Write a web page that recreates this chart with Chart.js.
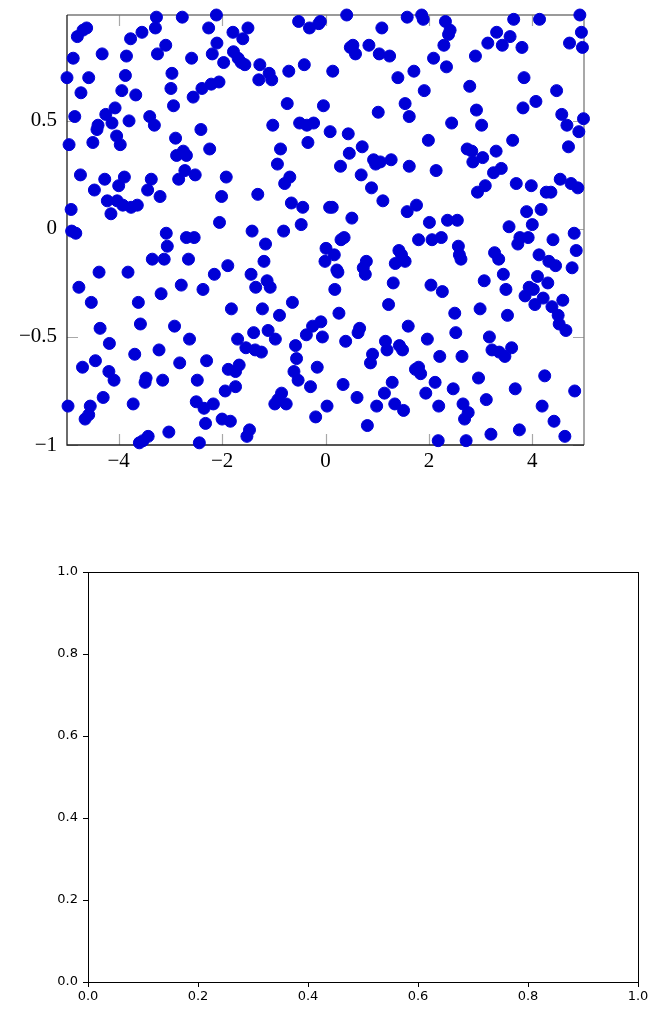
<!DOCTYPE html>
<html>
<head>
<meta charset="utf-8">
<script src="https://cdn.jsdelivr.net/npm/chart.js@4.4.1/dist/chart.umd.min.js"></script>
<style>
  body { margin: 0; background: #fff; }
  .box { position: absolute; left: 0; width: 652px; }
  #top { top: 0; height: 490px; }
  #bottom { top: 500px; height: 509px; }
</style>
</head>
<body>
<div class="box" id="top"><canvas id="chart-scatter"></canvas></div>
<div class="box" id="bottom"><canvas id="chart-empty"></canvas></div>
<script>
// tick positions
const xTicks = [-4, -2, 0, 2, 4];
const yTicks = [-1, -0.5, 0, 0.5];
const emptyTicks = [0, 0.2, 0.4, 0.6, 0.8, 1.0];

// scatter points
const xs = [
    -3.27, -2.77, -2.11, -4.62, -4.69, -4.80, -3.29, -3.55, -3.77, -2.26,
    -1.79, -2.10, -3.09, -4.32, -3.85, -3.25, -2.59, -2.19, -1.78, -1.69,
    -1.97, -4.88, -5.00, -4.58, -3.87, -2.97, -4.73, -3.94, -3.67, -2.99,
    -2.56, -2.39, -2.21, -2.06, -2.94, -4.85, -4.07, -4.25, -3.40, -3.31,
    -4.40, -4.42, -4.13, -3.80, -2.41, -4.96, -4.50, -4.04, -3.97, -2.90,
    -2.75, -2.88, -2.69, -2.24, -4.74, -4.27, -3.89, -4.00, -4.47, -3.37,
    -3.44, -2.72, -2.84, -2.52, -1.92, -2.01, -3.20, -4.22, -4.03, -3.92,
    -3.76, -3.64, -4.15, -4.92, -2.05, -0.52, -0.31, -0.13, -0.10, 0.41,
    1.58, -1.50, -1.60, 1.09, 0.53, 0.58, 0.48, 0.84, 1.04, 1.24,
    1.40, -1.56, -1.63, -1.27, -1.29, -1.09, -1.04, -0.71, -0.41, 0.14,
    -0.74, -0.04, 1.02, 1.54, 1.62, -1.02, -0.50, -0.36, -0.23, -0.34,
    0.09, 0.44, -0.87, -0.93, -0.69, -0.79, 0.29, 0.46, 0.71, 0.93,
    1.06, 0.97, 1.27, 0.69, 0.89, 1.11, -1.31, -0.66, -0.44, 0.08,
    0.13, 0.51, -0.47, 1.58, 1.62, 1.86, 1.89, 2.32, 2.41, 2.38,
    3.64, 4.14, 4.92, 4.95, 3.31, 3.57, 3.14, 3.42, 3.80, 4.72,
    4.97, 2.29, 2.09, 2.34, 2.90, 1.71, 3.84, 2.79, 1.91, 4.47,
    2.92, 3.82, 4.07, 4.57, 4.67, 4.99, 4.90, 2.44, 3.02, 1.99,
    3.62, 2.74, 2.83, 2.85, 3.04, 3.30, 4.70, 2.14, 3.25, 3.40,
    3.09, 2.94, 3.69, 3.98, 4.27, 4.36, 4.54, 4.75, 4.88, 1.76,
    2.01, 2.36, 2.55, 3.89, 4.17, 3.55, 4.00, 4.81, -4.91, -4.83,
    -3.08, -3.06, -2.69, -2.54, -3.35, -3.12, -2.65, -4.38, -3.82, -1.89,
    -2.15, -4.77, -4.53, -3.62, -3.18, -2.79, -2.37, -1.82, -4.36, -4.18,
    -3.58, -2.92, -2.63, -1.70, -4.70, -4.45, -4.19, -4.09, -3.69, -3.22,
    -2.82, -2.30, -3.47, -3.49, -3.15, -2.48, -1.88, -1.74, -1.67, -4.30,
    -4.98, -4.55, -4.58, -4.65, -3.72, -2.50, -2.35, -2.17, -1.94, -1.74,
    -2.00, -1.84, -2.32, -3.03, -3.43, -3.53, -3.60, -2.44, -1.42, -0.81,
    -1.16, 0.01, 0.17, -0.01, 0.30, 0.36, 0.22, 0.24, 1.42, 1.47,
    1.54, 1.35, 0.79, 0.73, 0.77, -1.19, -1.44, -1.13, -1.07, -1.35,
    0.18, 1.31, -1.22, -0.89, -0.64, 0.26, 1.22, 1.60, -1.39, -1.11,
    -0.97, -0.37, -0.25, -0.09, -0.06, 0.39, 0.66, 0.63, 1.16, 1.19,
    1.43, 1.49, -1.54, -1.36, -1.24, -0.58, -0.56, -0.61, -0.53, -0.16,
    -0.29, 0.34, 0.91, 0.87, -0.85, -0.98, -0.76, -0.92, 0.03, -0.19,
    0.61, 1.14, 1.29, 0.99, 1.34, 1.51, 0.81, -1.47, -1.52, 1.80,
    2.06, 2.24, 2.57, 2.59, 2.62, 3.27, 3.35, 3.76, 3.72, 3.92,
    4.40, 4.85, 4.13, 4.32, 4.45, 4.77, 3.44, 3.07, 2.04, 2.26,
    3.49, 4.10, 4.30, 3.94, 4.02, 3.86, 4.21, 4.05, 4.59, 4.38,
    4.50, 4.52, 4.65, 2.50, 2.99, 3.52, 1.97, 2.52, 3.17, 2.21,
    2.64, 3.22, 3.36, 3.47, 3.60, 1.80, 1.84, 1.74, 2.96, 2.12,
    1.94, 2.47, 3.67, 4.24, 4.82, 3.11, 2.66, 2.76, 2.69, 2.19,
    4.19, 4.42, 2.18, 2.72, 3.20, 3.75, 4.63
];
const ys = [
    0.98, 0.98, 0.99, 0.93, 0.92, 0.89, 0.93, 0.91, 0.88, 0.93,
    0.91, 0.86, 0.85, 0.81, 0.80, 0.81, 0.79, 0.81, 0.82, 0.79,
    0.77, 0.79, 0.70, 0.70, 0.71, 0.72, 0.63, 0.64, 0.62, 0.65,
    0.61, 0.65, 0.67, 0.68, 0.57, 0.52, 0.56, 0.53, 0.52, 0.48,
    0.48, 0.46, 0.49, 0.50, 0.46, 0.39, 0.40, 0.43, 0.39, 0.42,
    0.36, 0.34, 0.34, 0.37, 0.25, 0.23, 0.24, 0.20, 0.18, 0.23,
    0.18, 0.27, 0.23, 0.25, 0.24, 0.15, 0.15, 0.13, 0.13, 0.11,
    0.10, 0.11, 0.07, 0.09, 0.03, 0.96, 0.93, 0.95, 0.96, 0.99,
    0.98, 0.93, 0.88, 0.93, 0.85, 0.81, 0.84, 0.85, 0.81, 0.80,
    0.70, 0.76, 0.77, 0.76, 0.69, 0.72, 0.69, 0.73, 0.76, 0.73,
    0.58, 0.57, 0.54, 0.58, 0.52, 0.48, 0.49, 0.48, 0.49, 0.40,
    0.45, 0.44, 0.37, 0.30, 0.24, 0.21, 0.29, 0.35, 0.38, 0.32,
    0.31, 0.30, 0.32, 0.25, 0.19, 0.13, 0.16, 0.12, 0.10, 0.10,
    0.10, 0.05, 0.02, 0.08, 0.29, 0.99, 0.97, 0.96, 0.92, 0.90,
    0.97, 0.97, 0.99, 0.91, 0.91, 0.89, 0.86, 0.85, 0.84, 0.86,
    0.84, 0.85, 0.79, 0.75, 0.80, 0.73, 0.70, 0.66, 0.64, 0.64,
    0.55, 0.56, 0.59, 0.53, 0.48, 0.51, 0.45, 0.49, 0.48, 0.41,
    0.41, 0.37, 0.36, 0.31, 0.33, 0.36, 0.38, 0.27, 0.26, 0.28,
    0.20, 0.17, 0.21, 0.20, 0.17, 0.17, 0.23, 0.21, 0.19, 0.11,
    0.03, 0.04, 0.04, 0.08, 0.09, 0.01, 0.02, -0.02, -0.01, -0.02,
    -0.02, -0.08, -0.04, -0.04, -0.14, -0.14, -0.14, -0.20, -0.20, -0.17,
    -0.21, -0.27, -0.34, -0.34, -0.30, -0.26, -0.28, -0.37, -0.46, -0.53,
    -0.44, -0.45, -0.51, -0.51, -0.64, -0.61, -0.66, -0.70, -0.58, -0.56,
    -0.62, -0.61, -0.69, -0.71, -0.70, -0.70, -0.65, -0.66, -0.63, -0.78,
    -0.82, -0.82, -0.86, -0.88, -0.81, -0.80, -0.83, -0.81, -0.75, -0.73,
    -0.88, -0.89, -0.90, -0.94, -0.96, -0.98, -0.99, -0.99, -0.01, -0.01,
    -0.07, -0.09, -0.12, -0.15, -0.05, -0.04, -0.19, -0.20, -0.10, -0.12,
    -0.15, -0.16, -0.15, -0.18, -0.21, -0.15, -0.21, -0.24, -0.27, -0.27,
    -0.28, -0.25, -0.37, -0.40, -0.34, -0.39, -0.35, -0.45, -0.48, -0.47,
    -0.51, -0.49, -0.45, -0.43, -0.50, -0.52, -0.46, -0.48, -0.52, -0.56,
    -0.54, -0.56, -0.55, -0.56, -0.57, -0.54, -0.60, -0.66, -0.70, -0.64,
    -0.73, -0.72, -0.58, -0.62, -0.76, -0.81, -0.81, -0.79, -0.82, -0.87,
    -0.78, -0.76, -0.71, -0.82, -0.81, -0.84, -0.91, -0.93, -0.96, -0.05,
    -0.05, -0.04, -0.08, -0.12, -0.14, -0.11, -0.14, -0.04, -0.07, -0.04,
    -0.05, -0.10, -0.12, -0.15, -0.17, -0.18, -0.21, -0.24, -0.26, -0.29,
    -0.28, -0.22, -0.25, -0.27, -0.28, -0.31, -0.32, -0.35, -0.33, -0.36,
    -0.40, -0.44, -0.47, -0.39, -0.37, -0.40, -0.51, -0.48, -0.50, -0.59,
    -0.59, -0.56, -0.57, -0.59, -0.55, -0.64, -0.67, -0.65, -0.69, -0.71,
    -0.76, -0.74, -0.74, -0.68, -0.75, -0.79, -0.81, -0.85, -0.88, -0.82,
    -0.82, -0.89, -0.98, -0.98, -0.95, -0.93, -0.96
];

const minus = v => String(v).replace('-', '\u2212');

function fixTicks(values) {
    return scale => { scale.ticks = values.map(v => ({ value: v })); };
}

// fixed axis size, no extra label overflow padding
function fixSize(w, h) {
    return s => {
        if (w != null) s.width = w;
        if (h != null) s.height = h;
        s.paddingTop = 0; s.paddingBottom = 0;
        s.paddingLeft = 0; s.paddingRight = 0;
    };
}

// grey inward ticks on all four sides + the box (top chart)
const insideFrame = {
    id: 'insideFrame',
    beforeDatasetsDraw(chart) {
        const { ctx, chartArea: a, scales } = chart;
        const len = 11;
        ctx.save();
        ctx.strokeStyle = '#a8a8a8';
        ctx.lineWidth = 1.2;
        ctx.beginPath();
        scales.x.ticks.forEach(t => {
            const px = Math.round(scales.x.getPixelForValue(t.value)) + 0.5;
            ctx.moveTo(px, a.bottom); ctx.lineTo(px, a.bottom - len);
            ctx.moveTo(px, a.top); ctx.lineTo(px, a.top + len);
        });
        scales.y.ticks.forEach(t => {
            const py = Math.round(scales.y.getPixelForValue(t.value)) + 0.5;
            ctx.moveTo(a.left, py); ctx.lineTo(a.left + len, py);
            ctx.moveTo(a.right, py); ctx.lineTo(a.right - len, py);
        });
        ctx.stroke();

        ctx.lineWidth = 1.3;
        ctx.strokeStyle = '#7a7a7a';
        ctx.beginPath();
        ctx.moveTo(a.left, a.top); ctx.lineTo(a.right, a.top); ctx.lineTo(a.right, a.bottom);
        ctx.stroke();
        ctx.strokeStyle = '#1e1e1e';
        ctx.beginPath();
        ctx.moveTo(a.left, a.top); ctx.lineTo(a.left, a.bottom); ctx.lineTo(a.right, a.bottom);
        ctx.stroke();
        ctx.restore();
    }
};

// plain black box (bottom chart)
const boxFrame = {
    id: 'boxFrame',
    beforeDatasetsDraw(chart) {
        const { ctx, chartArea: a } = chart;
        ctx.save();
        ctx.strokeStyle = '#000';
        ctx.lineWidth = 1;
        ctx.strokeRect(Math.round(a.left) + 0.5, Math.round(a.top) + 0.5,
            Math.round(a.right - a.left), Math.round(a.bottom - a.top));
        ctx.restore();
    }
};

const serif = { family: "'Liberation Serif', 'DejaVu Serif', serif", size: 21 };
const sans = { family: "'DejaVu Sans', sans-serif", size: 13 };

new Chart(document.getElementById('chart-scatter'), {
    type: 'scatter',
    data: {
        datasets: [{
            data: xs.map((x, i) => ({ x: x, y: ys[i] })),
            backgroundColor: '#0000d6',
            borderColor: '#0000d6',
            pointRadius: 6,
            pointBorderWidth: 1,
            clip: false
        }]
    },
    options: {
        responsive: true,
        maintainAspectRatio: false,
        animation: false,
        events: [],
        layout: { padding: { left: 0, right: 68, top: 15, bottom: 0 } },
        plugins: { legend: { display: false }, tooltip: { enabled: false } },
        scales: {
            x: {
                type: 'linear', min: -5, max: 5,
                afterBuildTicks: fixTicks(xTicks),
                afterFit: fixSize(null, 45),
                grid: { display: false, drawTicks: false },
                border: { display: false },
                ticks: { font: serif, color: '#000', padding: 4, maxRotation: 0, callback: minus }
            },
            y: {
                type: 'linear', min: -1, max: 0.99,
                afterBuildTicks: fixTicks(yTicks),
                afterFit: fixSize(67, null),
                grid: { display: false, drawTicks: false },
                border: { display: false },
                ticks: { font: serif, color: '#000', padding: 10, callback: minus }
            }
        }
    },
    plugins: [insideFrame]
});

new Chart(document.getElementById('chart-empty'), {
    type: 'scatter',
    data: { datasets: [{ data: [] }] },
    options: {
        responsive: true,
        maintainAspectRatio: false,
        animation: false,
        events: [],
        layout: { padding: { left: 0, right: 14, top: 72, bottom: 0 } },
        plugins: { legend: { display: false }, tooltip: { enabled: false } },
        scales: {
            x: {
                type: 'linear', min: 0, max: 1,
                afterBuildTicks: fixTicks(emptyTicks),
                afterFit: fixSize(null, 27),
                grid: { drawOnChartArea: false, tickLength: 5, color: '#000', tickColor: '#000' },
                border: { display: false },
                ticks: { font: sans, color: '#000', padding: 2, maxRotation: 0, callback: v => v.toFixed(1) }
            },
            y: {
                type: 'linear', min: 0, max: 1,
                afterBuildTicks: fixTicks(emptyTicks),
                afterFit: fixSize(88, null),
                grid: { drawOnChartArea: false, tickLength: 5, color: '#000', tickColor: '#000' },
                border: { display: false },
                ticks: { font: sans, color: '#000', padding: 5, callback: v => v.toFixed(1) }
            }
        }
    },
    plugins: [boxFrame]
});
</script>
</body>
</html>
